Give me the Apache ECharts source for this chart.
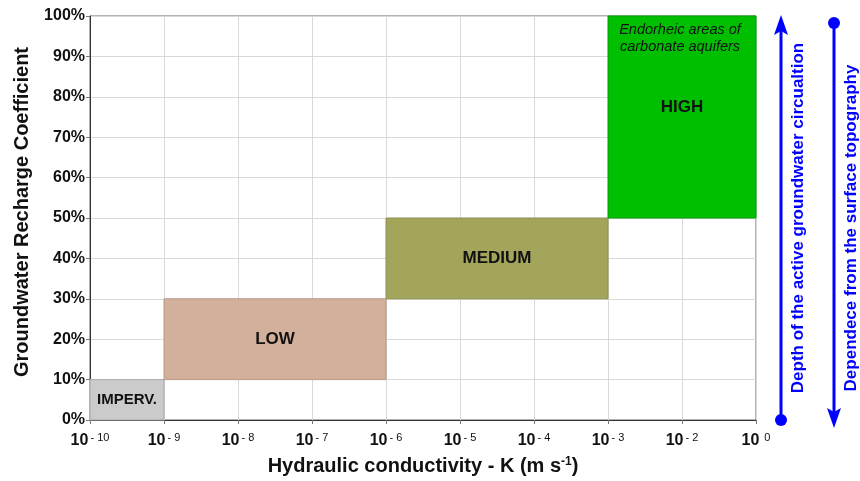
<!DOCTYPE html>
<html>
<head>
<meta charset="utf-8">
<script src="https://cdn.jsdelivr.net/npm/echarts@6/dist/echarts.min.js"></script>
<style>html,body{margin:0;padding:0;background:#fff}#c{width:860px;height:481px}</style>
</head>
<body>
<div id="c"></div>
<script>
// ---- data ----
// The reference axis has 9 equal decade intervals; its last tick is labelled 10^0
// (the 10^-1 tick is skipped in the labels), so tick labels are kept as their own list.
const xTickExponents = [-10, -9, -8, -7, -6, -5, -4, -3, -2, 0];
const classNames = ['IMPERV.', 'LOW', 'MEDIUM', 'HIGH'];
const kFrom = [1e-10, 1e-9, 1e-6, 1e-3];
const kTo = [1e-9, 1e-6, 1e-3, 1e-1];   // last value sits at the tick labelled 10^0
const coefFrom = [0, 10, 30, 50];
const coefTo = [10, 30, 50, 100];
const labelCoef = [5, 20, 40, 77.3];
const noteText = ['', '', '', 'Endorheic areas of\ncarbonate aquifers'];
const yTickMax = 100;
const yTickStep = 10;
const xTitle = 'Hydraulic conductivity - K (m s';
const yTitle = 'Groundwater Recharge Coefficient';
const arrowText1 = 'Depth of the active groundwater circualtion';
const arrowText2 = 'Dependece from the surface topography';

// ---- styles ----
const fills = ['#cbcbcb', '#d2b09b', '#a3a55a', '#00bf00'];
const strokes = ['#a9a9a9', '#b89a86', '#8f9050', '#00a000'];
const labelSizes = [15, 17, 17, 17];
const FONT = 'Arial, "Liberation Sans", sans-serif';
const BLUE = '#0000ff';

const data = classNames.map((n, i) => [kFrom[i], kTo[i], coefFrom[i], coefTo[i], labelCoef[i], i]);

const chart = echarts.init(document.getElementById('c'), null, {renderer: 'canvas'});

function renderItem(params, api) {
  const i = api.value(5);
  const p0 = api.coord([api.value(0), api.value(3)]);
  const p1 = api.coord([api.value(1), api.value(2)]);
  const cx = (p0[0] + p1[0]) / 2;
  const lp = api.coord([Math.sqrt(api.value(0) * api.value(1)), api.value(4)]);
  const children = [
    {type: 'rect', shape: {x: p0[0], y: p0[1], width: p1[0] - p0[0], height: p1[1] - p0[1]},
     style: {fill: fills[i], stroke: strokes[i], lineWidth: 1}},
    {type: 'text', style: {x: cx, y: lp[1], text: classNames[i], align: 'center', verticalAlign: 'middle',
      fill: '#111', font: 'bold ' + labelSizes[i] + 'px ' + FONT}}
  ];
  if (noteText[i]) {
    children.push({type: 'text', style: {x: cx - 2, y: p0[1] + 5, text: noteText[i], align: 'center', verticalAlign: 'top',
      fill: '#111', font: 'italic 14.5px ' + FONT, lineHeight: 17}});
  }
  return {type: 'group', children: children};
}

const option = {
  animation: false,
  backgroundColor: '#fff',
  grid: {left: 90, right: 104, top: 16, bottom: 59, show: true, borderColor: '#666', borderWidth: 1, containLabel: false},
  xAxis: {
    type: 'log', logBase: 10, min: 1e-10, max: 1e-1, interval: 1,
    name: xTitle + '{s|-1}{t|)}',
    nameLocation: 'middle', nameGap: 36,
    nameTextStyle: {fontFamily: FONT, fontWeight: 'bold', fontSize: 20, color: '#111',
      rich: {s: {fontSize: 12, fontWeight: 'bold', verticalAlign: 'top', color: '#111', fontFamily: FONT},
             t: {fontSize: 20, fontWeight: 'bold', color: '#111', fontFamily: FONT}}},
    axisLine: {show: true, lineStyle: {color: '#333', width: 1}},
    axisTick: {show: true, length: 4, lineStyle: {color: '#777'}},
    minorTick: {show: false},
    splitLine: {show: true, lineStyle: {color: '#d9d9d9', width: 1}},
    axisLabel: {
      margin: 12,
      formatter: function (v) {
        const idx = Math.round(Math.log10(v)) + 10;
        const e = xTickExponents[idx];
        if (e === undefined) return '';
        const sup = e < 0 ? '- ' + (-e) : ' ' + e;
        return '{b|10}{s|' + sup + '}';
      },
      rich: {
        b: {fontFamily: FONT, fontWeight: 'bold', fontSize: 16, color: '#111', lineHeight: 18},
        s: {fontFamily: FONT, fontSize: 11, color: '#111', verticalAlign: 'top', lineHeight: 18, padding: [0, 0, 6, 2]}
      }
    }
  },
  yAxis: {
    type: 'value', min: 0, max: yTickMax, interval: yTickStep,
    name: yTitle, nameLocation: 'middle', nameGap: 58, nameRotate: 90,
    nameTextStyle: {fontFamily: FONT, fontWeight: 'bold', fontSize: 20, color: '#111', padding: [0, 0, 0, 12]},
    axisLine: {show: true, lineStyle: {color: '#333', width: 1}},
    axisTick: {show: true, length: 4, lineStyle: {color: '#777'}},
    splitLine: {show: true, lineStyle: {color: '#d9d9d9', width: 1}},
    axisLabel: {formatter: '{value}%', margin: 5, fontFamily: FONT, fontWeight: 'bold', fontSize: 16, color: '#111'}
  },
  series: [{
    type: 'custom',
    renderItem: renderItem,
    data: data,
    encode: {x: [0, 1], y: [2, 3]},
    z: 3
  }],
  graphic: [
    // arrow 1: up
    {type: 'line', shape: {x1: 781, y1: 420, x2: 781, y2: 30}, style: {stroke: BLUE, lineWidth: 3}, z: 10},
    {type: 'polygon', shape: {points: [[781, 15], [774, 35], [781, 31], [788, 35]]}, style: {fill: BLUE}, z: 10},
    {type: 'circle', shape: {cx: 781, cy: 420, r: 6}, style: {fill: BLUE}, z: 10},
    {type: 'text', x: 798, y: 218, rotation: Math.PI / 2,
     style: {text: arrowText1, align: 'center', verticalAlign: 'middle', fill: BLUE, font: 'bold 17px ' + FONT}, z: 10},
    // arrow 2: down
    {type: 'line', shape: {x1: 834, y1: 23, x2: 834, y2: 414}, style: {stroke: BLUE, lineWidth: 3}, z: 10},
    {type: 'polygon', shape: {points: [[834, 428], [827, 408], [834, 412], [841, 408]]}, style: {fill: BLUE}, z: 10},
    {type: 'circle', shape: {cx: 834, cy: 23, r: 6}, style: {fill: BLUE}, z: 10},
    {type: 'text', x: 851, y: 228, rotation: Math.PI / 2,
     style: {text: arrowText2, align: 'center', verticalAlign: 'middle', fill: BLUE, font: 'bold 17px ' + FONT}, z: 10}
  ]
};
chart.setOption(option);
</script>
</body>
</html>
